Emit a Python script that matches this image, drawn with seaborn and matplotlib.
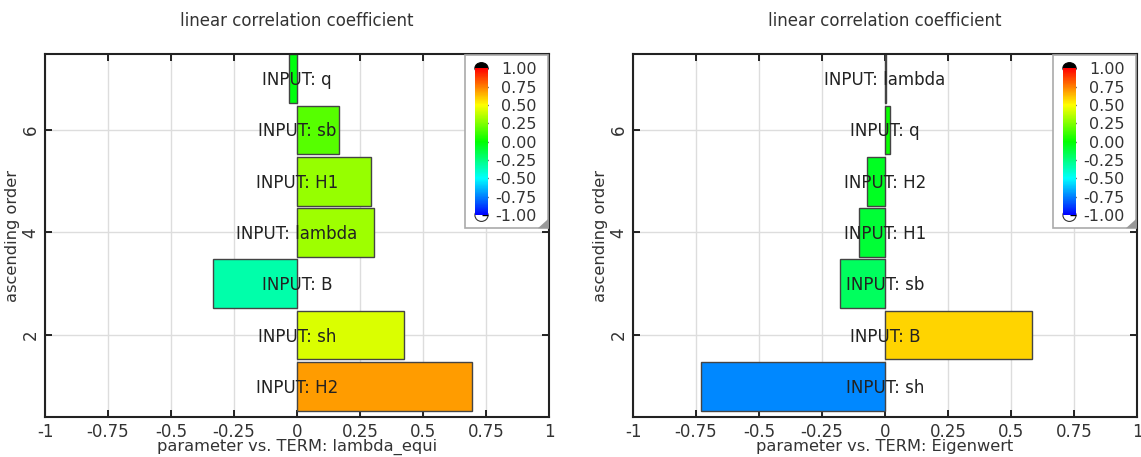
import numpy as np
import pandas as pd
import matplotlib
matplotlib.use("Agg")
import matplotlib.pyplot as plt
import matplotlib.colors as mcolors
from matplotlib.patches import Rectangle, Polygon, Ellipse
import seaborn as sns

# ---- data ----
left_params = ["H2", "sh", "B", "lambda", "H1", "sb", "q"]
left_values = [0.695, 0.425, -0.335, 0.305, 0.295, 0.165, -0.03]
left_term = "lambda_equi"

right_params = ["sh", "B", "sb", "H1", "H2", "q", "lambda"]
right_values = [-0.73, 0.585, -0.18, -0.105, -0.07, 0.02, 0.003]
right_term = "Eigenwert"

order_positions = [1, 2, 3, 4, 5, 6, 7]
x_ticks = [-1, -0.75, -0.5, -0.25, 0, 0.25, 0.5, 0.75, 1]
x_tick_labels = ["-1", "-0.75", "-0.5", "-0.25", "0", "0.25", "0.5", "0.75", "1"]
y_ticks = [2, 4, 6]
cbar_ticks = [-1, -0.75, -0.5, -0.25, 0, 0.25, 0.5, 0.75, 1]

sns.set_theme(style="ticks")
plt.rcParams["font.family"] = ["DejaVu Sans"]

cmap = mcolors.LinearSegmentedColormap.from_list(
    "corr",
    [(0.0, (0, 0, 1)), (0.25, (0, 1, 1)), (0.5, (0, 1, 0)),
     (0.75, (1, 1, 0)), (1.0, (1, 0, 0))])
norm = mcolors.Normalize(-1, 1)

fig = plt.figure(figsize=(11.41, 4.57), dpi=100)
ax_l = fig.add_axes([45 / 1141, 1 - 417 / 457, 504 / 1141, 363 / 457])
ax_r = fig.add_axes([633 / 1141, 1 - 417 / 457, 504 / 1141, 363 / 457])

text_col = "#333333"


def draw(ax, params, values, term):
    df = pd.DataFrame({"param": params, "value": values, "pos": order_positions})
    pal = {p: cmap(norm(v)) for p, v in zip(params, values)}
    sns.barplot(data=df, x="value", y="pos", hue="param", palette=pal,
                orient="h", native_scale=True, width=0.95, dodge=False,
                edgecolor="#444444", linewidth=1.0, legend=False, ax=ax,
                saturation=1, zorder=2)
    for p, y in zip(params, order_positions):
        ax.text(0, y - 0.03, f"INPUT: {p}", ha="center", va="center",
                fontsize=12, color="#222222", zorder=5)
    ax.set_xlim(-1, 1)
    ax.set_ylim(0.4, 7.48)
    ax.set_xticks(x_ticks)
    ax.set_xticklabels(x_tick_labels)
    ax.set_yticks(y_ticks)
    ax.set_yticklabels([str(t) for t in y_ticks], rotation=90, va="center")
    ax.tick_params(direction="in", top=True, right=True, length=5, width=1.2,
                   labelsize=12, labelcolor=text_col, color="black", pad=4)
    ax.grid(True, color="#dddddd", linewidth=1, zorder=0)
    ax.set_axisbelow(True)
    for s in ax.spines.values():
        s.set_color("#222222")
        s.set_linewidth(1.5)
    ax.set_xlabel(f"parameter vs. TERM: {term}", fontsize=11.7, color=text_col, labelpad=-1)
    ax.set_ylabel("ascending order", fontsize=11.7, color=text_col, labelpad=1)
    ax.set_title("linear correlation coefficient", fontsize=12, color=text_col, pad=20)

    # colorbar box
    box = Rectangle((0.833, 0.52), 0.165, 0.478, transform=ax.transAxes,
                    facecolor="white", edgecolor="#aaaaaa", linewidth=1.2, zorder=6)
    ax.add_patch(box)
    tri = Polygon([(0.998, 0.52), (0.998, 0.545), (0.978, 0.52)], closed=True,
                  transform=ax.transAxes, facecolor="#999999", edgecolor="none", zorder=7)
    ax.add_patch(tri)
    cax = ax.inset_axes([0.853, 0.556, 0.026, 0.405])
    cax.set_zorder(8)
    sm = matplotlib.cm.ScalarMappable(norm=norm, cmap=cmap)
    cb = fig.colorbar(sm, cax=cax, ticks=cbar_ticks)
    cb.ax.set_yticklabels([f"{t:.2f}" for t in cbar_ticks])
    cb.ax.tick_params(direction="in", length=4, width=1, labelsize=11.5,
                      labelcolor=text_col, color="black", pad=35)
    for lab in cb.ax.get_yticklabels():
        lab.set_horizontalalignment("right")
    cb.outline.set_visible(False)
    # rounded end caps
    cax.add_patch(Ellipse((0.5, 1.0), 1.0, 0.075, transform=cax.transAxes,
                          facecolor="black", edgecolor="black", lw=0.8,
                          clip_on=False, zorder=0))
    cax.add_patch(Ellipse((0.5, 0.0), 1.0, 0.085, transform=cax.transAxes,
                          facecolor="white", edgecolor="#333333", lw=0.8,
                          clip_on=False, zorder=0))


draw(ax_l, left_params, left_values, left_term)
draw(ax_r, right_params, right_values, right_term)

fig.savefig("out.png", dpi=100)
